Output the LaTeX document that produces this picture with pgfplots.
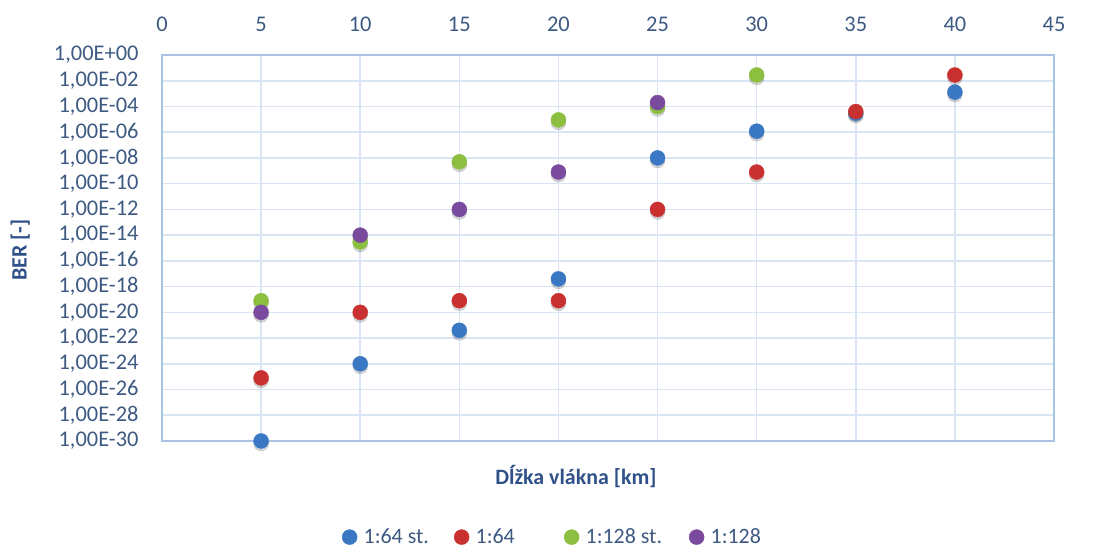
\documentclass[border=0pt]{standalone}
\usepackage{pgfplots}
\pgfplotsset{compat=1.18}
\usetikzlibrary{calc}
\usepackage{fontspec}
\setmainfont{Carlito}

\definecolor{sblue}{HTML}{3A78C4}
\definecolor{sred}{HTML}{C8312F}
\definecolor{sgreen}{HTML}{8CBF3F}
\definecolor{spurple}{HTML}{7A4A9E}
\definecolor{gridc}{HTML}{DAE5F4}
\definecolor{spine}{HTML}{A9C3E6}
\definecolor{txt}{HTML}{3E5A82}
\definecolor{ttl}{HTML}{2F5088}

\begin{document}
\begin{tikzpicture}
\begin{axis}[
  name=ax,
  scale only axis,
  width=892bp, height=386bp,
  xmin=0, xmax=45, xtick={0,5,...,45},
  xticklabel pos=upper,
  ymode=log, ymin=1e-30, ymax=1,
  ytick={1e-30,1e-28,1e-26,1e-24,1e-22,1e-20,1e-18,1e-16,1e-14,1e-12,1e-10,1e-8,1e-6,1e-4,1e-2,1},
  yticklabels={{1,00E-30},{1,00E-28},{1,00E-26},{1,00E-24},{1,00E-22},{1,00E-20},{1,00E-18},{1,00E-16},{1,00E-14},{1,00E-12},{1,00E-10},{1,00E-08},{1,00E-06},{1,00E-04},{1,00E-02},{1,00E+00}},
  yminorticks=false,
  grid=major,
  major grid style={gridc, line width=1.6bp},
  axis line style={spine, line width=1.4bp},
  tick style={draw=none},
  /pgf/number format/assume math mode=true,
  ticklabel style={font=\fontsize{22.5}{24}\selectfont, text=txt},
  xticklabel style={yshift=20bp},
  yticklabel style={xshift=-20bp},
  xlabel={\textbf{Dĺžka vlákna [km]}},
  xlabel style={at={(axis description cs:0.464,-0.093)}, anchor=center, font=\fontsize{22}{24}\selectfont, text=ttl},
  ylabel={\textbf{BER [-]}},
  ylabel style={at={(axis description cs:-0.159,0.495)}, anchor=center, font=\fontsize{22}{24}\selectfont, text=ttl},
  legend style={at={(axis description cs:0.4367,-0.249)}, anchor=center, draw=none, fill=none,
    legend columns=4, font=\fontsize{22}{24}\selectfont, text=txt,
    nodes={inner xsep=0pt, inner ysep=2bp},
    /tikz/every even column/.style={column sep=0pt},
    /tikz/every odd column/.style={column sep=0pt}},
  legend image code/.code={\draw[#1] plot coordinates {(0bp,0bp)};},
  legend cell align=left,
  clip=false,
]
% shadows
\addplot[only marks, mark=*, mark size=7.5bp, forget plot, color=black, opacity=0.16,
  mark options={yshift=-2.5bp}] coordinates {
  (5,1e-30) (10,1e-24) (15,4e-22) (20,4e-18) (25,1e-8) (30,1.2e-6) (35,3e-5) (40,1.3e-3)
  (5,8e-26) (10,1e-20) (15,8e-20) (20,8e-20) (25,1e-12) (30,8e-10) (35,4e-5) (40,2.8e-2)
  (5,8e-20) (10,3e-15) (15,5e-9) (20,9e-6) (25,1e-4) (30,2.8e-2)
  (5,1e-20) (10,1e-14) (15,1e-12) (20,8e-10) (25,2e-4)
};
% 1:64 st.
\addplot[only marks, mark=*, mark size=7.5bp, color=sblue] coordinates {
  (5,1e-30) (10,1e-24) (15,4e-22) (20,4e-18) (25,1e-8) (30,1.2e-6) (35,3e-5) (40,1.3e-3)
};
\addlegendentry{\hspace{6.5bp}\makebox[90.5bp][l]{1:64 st.}}
% 1:64
\addplot[only marks, mark=*, mark size=7.5bp, color=sred] coordinates {
  (5,8e-26) (10,1e-20) (15,8e-20) (20,8e-20) (25,1e-12) (30,8e-10) (35,4e-5) (40,2.8e-2)
};
\addlegendentry{\hspace{6.5bp}\makebox[88.5bp][l]{1:64}}
% 1:128 st.
\addplot[only marks, mark=*, mark size=7.5bp, color=sgreen] coordinates {
  (5,8e-20) (10,3e-15) (15,5e-9) (20,9e-6) (25,1e-4) (30,2.8e-2)
};
\addlegendentry{\hspace{6.5bp}\makebox[103.5bp][l]{1:128 st.}}
% 1:128
\addplot[only marks, mark=*, mark size=7.5bp, color=spurple] coordinates {
  (5,1e-20) (10,1e-14) (15,1e-12) (20,8e-10) (25,2e-4)
};
\addlegendentry{\hspace{6.5bp}1:128}
\end{axis}
\pgfresetboundingbox
\path ($(ax.south west)+(-162bp,-107bp)$) rectangle ($(ax.north east)+(47bp,55bp)$);
\end{tikzpicture}
\end{document}
